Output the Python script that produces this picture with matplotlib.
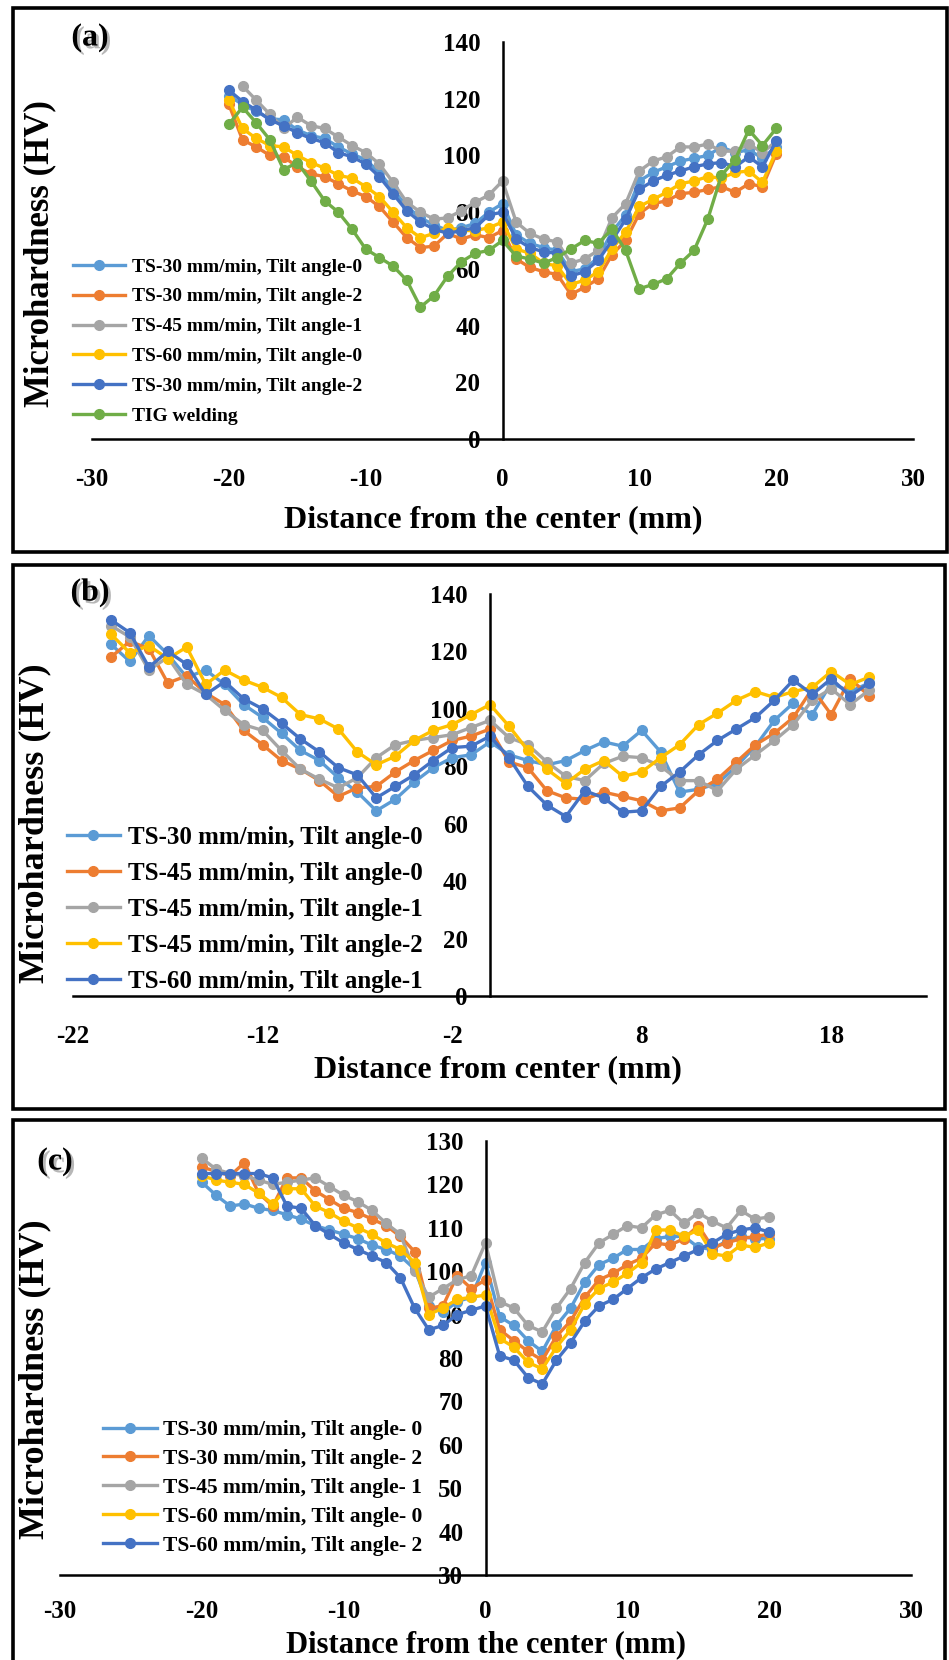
import numpy as np
import matplotlib
matplotlib.use("Agg")
import matplotlib.pyplot as plt
from matplotlib.patches import Rectangle
import matplotlib.patheffects as pe

plt.rcParams['font.family'] = ['Liberation Serif', 'DejaVu Serif']
plt.rcParams['font.weight'] = 'bold'
plt.rcParams['axes.unicode_minus'] = False

# ---------------- data ----------------
x = np.arange(-20, 21)

# panel (a)
a_labels = ["TS-30 mm/min, Tilt angle-0", "TS-30 mm/min, Tilt angle-2", "TS-45 mm/min, Tilt angle-1",
            "TS-60 mm/min, Tilt angle-0", "TS-30 mm/min, Tilt angle-2", "TIG welding"]
a_ts30_t0 = [121, 118, 115.5, 113, 112.5, 109, 107, 106, 103, 100.5, 98.5, 94, 88, 82, 78, 75.5, 73.5, 74.5, 76, 80, 83,
             72, 69, 67.5, 66.5, 59, 60, 64, 73, 79, 91, 94, 96, 98, 99, 100, 103, 101, 102, 99, 103]
a_ts30_t2 = [118, 105.5, 103, 100, 99.5, 96, 93.5, 92.5, 90, 87.5, 85.5, 82, 76.5, 71, 67.5, 68, 72.5, 70.5, 72, 71, 73.5,
             63.5, 60.5, 59, 58, 51, 53.5, 56.5, 65, 70, 79.5, 83, 84, 86.5, 87, 88, 89, 87, 90, 89, 100.5]
a_ts45_t1 = [np.nan, 124.5, 119.5, 114.5, 109.5, 113.5, 110.5, 109.5, 106.5, 103.5, 101, 97, 90.5, 83.5, 80, 77.5, 78, 80.5, 83.5, 86, 91,
             76.5, 72.5, 70.5, 69.5, 62, 63.5, 66.5, 78, 83, 94.5, 98, 99.5, 103, 103, 104, 101.5, 101.5, 104, 101, 105]
a_ts60_t0 = [119.5, 109.5, 106, 103.5, 103, 100, 97.5, 95.5, 93, 92, 89, 85.5, 80, 74.5, 71, 72.5, 74.5, 73.5, 73.5, 74.5, 76.5,
             67, 65.5, 62, 61, 54.5, 56, 59, 67, 73, 82, 84.5, 87, 90, 91, 92.5, 92, 94, 94.5, 90.5, 101.5]
a_ts30_t2b = [123, 119, 116, 112.5, 110.5, 108, 106, 104.5, 101, 99.5, 97, 92.5, 86.5, 80.5, 76.5, 74, 72.5, 73.5, 74.5, 79, 80,
              70.5, 67.5, 66, 65.5, 57.5, 59, 63, 70, 77.5, 88, 91, 93, 94.5, 96, 97, 97.5, 96, 99.5, 96, 105]
a_tig = [111, 117, 111.5, 105.5, 95, 97.5, 91, 84, 80, 74, 67, 64, 61, 56, 46.5, 50.5, 57.5, 62.5, 65.5, 66.5, 70,
         64.5, 63.5, 62, 64, 67, 70, 69, 74, 66.5, 53, 54.5, 56.5, 62, 66.5, 77.5, 93, 98.5, 109, 103.5, 109.5]

# panel (b)
b_labels = ["TS-30 mm/min, Tilt angle-0", "TS-45 mm/min, Tilt angle-0", "TS-45 mm/min, Tilt angle-1",
            "TS-45 mm/min, Tilt angle-2", "TS-60 mm/min, Tilt angle-1"]
b_ts30_t0 = [122.5, 116.5, 125.5, 119, 111, 113.5, 108.5, 101.5, 97, 91.5, 85.5, 82, 76, 71, 64.5, 68.5, 74.5, 79.5, 83, 84, 88.5,
             84, 82, 80.5, 82, 85.5, 88.5, 87, 92.5, 85, 71, 72, 74, 80, 87, 96, 102, 98, 109, 106, 109]
b_ts45_t0 = [118, 123.5, 121, 109, 111.5, 105.5, 101.5, 92.5, 87.5, 82, 79, 75, 69.5, 72.5, 73, 78, 82, 85.5, 89, 90.5, 93,
             81.5, 79.5, 71.5, 69, 68.5, 71, 69.5, 68, 64.5, 65.5, 71.5, 75.5, 81.5, 87.5, 91.5, 97, 107, 98, 110.5, 104.5]
b_ts45_t1 = [129, 125, 113.5, 118, 108.5, 105, 99.5, 94.5, 92.5, 85.5, 79, 75.5, 72.5, 76, 83, 87.5, 89, 90, 91, 93.5, 96,
             90, 87.5, 81.5, 76.5, 75, 81, 83.5, 83, 80, 75, 75, 71.5, 79, 84, 89, 94.5, 103, 107, 101.5, 106.5]
b_ts45_t2 = [126, 119.5, 122, 117.5, 121.5, 108.5, 113.5, 110, 107.5, 104, 98, 96.5, 93, 85, 80.5, 83.5, 89, 92.5, 94.5, 98, 101.5,
             94, 85.5, 79, 74, 79, 82, 76.5, 78, 83, 87.5, 94.5, 98.5, 103, 106, 104, 106, 107.5, 113, 108.5, 111]
b_ts60_t1 = [131, 126.5, 114.5, 120, 115.5, 105, 109.5, 103.5, 100, 95, 89.5, 85, 79.5, 77, 69, 73, 77, 82, 86.5, 87, 90.5,
             83, 73, 66.5, 62.5, 71.5, 69, 64, 64.5, 73, 78, 84, 89, 93, 97, 103, 110, 105, 110.5, 104.5, 109]

# panel (c)
c_labels = ["TS-30 mm/min, Tilt angle- 0", "TS-30 mm/min, Tilt angle- 2", "TS-45 mm/min, Tilt angle- 1",
            "TS-60 mm/min, Tilt angle- 0", "TS-60 mm/min, Tilt angle- 2"]
c_ts30_t0 = [120.5, 117.5, 115, 115.5, 114.5, 114, 113, 112, 110.5, 109.5, 108.5, 107.5, 106, 105, 103.5, 100.5, 92, 90.5, 93, 94, 102,
             89.5, 87.5, 84, 81.5, 87.5, 91.5, 97.5, 101.5, 103, 105, 105, 107.5, 108, 108, 105.5, 105, 107, 108, 107.5, 107.5]
c_ts30_t2 = [124, 123, 122, 125, 118, 115, 121.5, 121.5, 118.5, 116.5, 114.5, 113.5, 112, 110.5, 108, 104.5, 91.5, 92, 99, 96, 98,
             86.5, 84, 81.5, 79.5, 85, 88.5, 94, 98, 99.5, 101.5, 103, 106.5, 106, 107.5, 110.5, 105.5, 106.5, 107.5, 108, 108.5]
c_ts45_t1 = [126, 123.5, 122.5, 122, 121, 120, 120.5, 121, 121.5, 119.5, 117.5, 116, 114, 111, 108.5, 100, 94, 96, 98, 99, 106.5,
             93, 91.5, 87.5, 86, 91.5, 96, 102, 106.5, 108.5, 110.5, 110, 113, 114, 111, 113.5, 111.5, 110, 114, 112, 112.5]
c_ts60_t0 = [122, 121, 120.5, 120, 118, 115.5, 119, 119, 115, 113.5, 111.5, 110, 108.5, 106.5, 105, 102, 90, 91.5, 93.5, 94, 94.5,
             84.5, 82.5, 79, 77.5, 82.5, 86.5, 92.5, 96, 97.5, 99.5, 102, 109.5, 109.5, 108, 109.5, 104, 103.5, 106, 105.5, 106.5]
c_ts60_t2 = [122.5, 122.5, 122.5, 122.5, 122.5, 121.5, 115, 114.5, 110.5, 108.5, 106.5, 105, 103.5, 102, 98.5, 91.5, 86.5, 87.5, 90, 91, 92,
             80.5, 79.5, 75.5, 74, 79.5, 83.5, 88.5, 92, 93.5, 96, 98.5, 100.5, 102, 103.5, 105, 106.5, 108.5, 109.5, 110, 109]

colors6 = ["#5B9BD5", "#ED7D31", "#A5A5A5", "#FFC000", "#4472C4", "#70AD47"]

# ---------------- figure ----------------
W, H = 949, 1660
fig = plt.figure(figsize=(W / 100, H / 100), dpi=100)


def fx(px):
    return px / W


def fy(py):
    return 1 - py / H


def add_axes_px(x0, x1, y_bottom, y_top):
    return fig.add_axes([fx(x0), fy(y_bottom), (x1 - x0) / W, (y_bottom - y_top) / H])


def style_axes(ax, xlim, ylim, xticks, yticks, xpad=21, ypad=16, tsize=18):
    ax.set_xlim(*xlim)
    ax.set_ylim(*ylim)
    for s in ['top', 'right']:
        ax.spines[s].set_visible(False)
    ax.spines['left'].set_position(('data', 0))
    ax.spines['left'].set_linewidth(1.8)
    ax.spines['bottom'].set_linewidth(1.8)
    ax.set_xticks(xticks)
    ax.set_yticks(yticks)
    ax.tick_params(axis='x', length=0, pad=xpad, labelsize=tsize)
    ax.tick_params(axis='y', length=0, pad=ypad, labelsize=tsize)
    for t in ax.get_xticklabels() + ax.get_yticklabels():
        t.set_fontweight('bold')
    ax.patch.set_alpha(0)


def frame(x0, y0, x1, y1):
    fig.patches.append(Rectangle((fx(x0), fy(y1)), (x1 - x0) / W, (y1 - y0) / H,
                                 transform=fig.transFigure, fill=False, lw=2.6, ec='black'))


shadow = [pe.withSimplePatchShadow(offset=(2, -2), shadow_rgbFace='#888888', alpha=0.6)]
mk = dict(marker='o', markersize=7, lw=2.4)

# ----- panel (a)
frame(13, 8, 947, 552)
axa = add_axes_px(92, 913, 439, 42)
a_series = [a_ts30_t0, a_ts30_t2, a_ts45_t1, a_ts60_t0, a_ts30_t2b, a_tig]
for vals, c, lab in zip(a_series, colors6, a_labels):
    axa.plot(x, vals, color=c, mfc=c, mec=c, label=lab, **mk)
style_axes(axa, (-30, 30), (0, 140), np.arange(-30, 31, 10), np.arange(0, 141, 20))
axa.legend(loc='upper left', bbox_to_anchor=(fx(73), fy(258)), bbox_transform=fig.transFigure,
           frameon=False, prop={'size': 14, 'weight': 'bold'}, handlelength=2.67, handletextpad=0.36,
           labelspacing=0.63, borderpad=0, borderaxespad=0)
fig.text(fx(493), fy(520), "Distance from the center (mm)", ha='center', va='center', fontsize=23, fontweight='bold')
fig.text(fx(40), fy(254), "Microhardness (HV)", ha='center', va='center', rotation=90, fontsize=25, fontweight='bold')
fig.text(fx(90), fy(38), "(a)", ha='center', va='center', fontsize=23, fontweight='bold', path_effects=shadow)

# ----- panel (b)
frame(13, 565, 945, 1109)
axb = add_axes_px(73, 926, 996, 594)
b_series = [b_ts30_t0, b_ts45_t0, b_ts45_t1, b_ts45_t2, b_ts60_t1]
for vals, c, lab in zip(b_series, colors6[:5], b_labels):
    axb.plot(x, vals, color=c, mfc=c, mec=c, label=lab, **mk)
style_axes(axb, (-22, 23), (0, 140), np.arange(-22, 19, 10), np.arange(0, 141, 20))
axb.legend(loc='upper left', bbox_to_anchor=(fx(67), fy(826)), bbox_transform=fig.transFigure,
           frameon=False, prop={'size': 18, 'weight': 'bold'}, handlelength=2.1, handletextpad=0.32,
           labelspacing=0.52, borderpad=0, borderaxespad=0)
fig.text(fx(498), fy(1070), "Distance from center (mm)", ha='center', va='center', fontsize=23, fontweight='bold')
fig.text(fx(35), fy(823), "Microhardness (HV)", ha='center', va='center', rotation=90, fontsize=26, fontweight='bold')
fig.text(fx(90), fy(593), "(b)", ha='center', va='center', fontsize=23, fontweight='bold', path_effects=shadow)

# ----- panel (c)
frame(13, 1120, 945, 1664)
axc = add_axes_px(60, 911, 1575, 1141)
c_series = [c_ts30_t0, c_ts30_t2, c_ts45_t1, c_ts60_t0, c_ts60_t2]
for vals, c, lab in zip(c_series, colors6[:5], c_labels):
    axc.plot(x, vals, color=c, mfc=c, mec=c, label=lab, **mk)
style_axes(axc, (-30, 30), (30, 130), np.arange(-30, 31, 10), np.arange(30, 131, 10), xpad=18)
axc.legend(loc='upper left', bbox_to_anchor=(fx(103), fy(1420)), bbox_transform=fig.transFigure,
           frameon=False, prop={'size': 15.5, 'weight': 'bold'}, handlelength=2.5, handletextpad=0.28,
           labelspacing=0.41, borderpad=0, borderaxespad=0)
fig.text(fx(486), fy(1645), "Distance from the center (mm)", ha='center', va='center', fontsize=22, fontweight='bold')
fig.text(fx(35), fy(1379), "Microhardness (HV)", ha='center', va='center', rotation=90, fontsize=26, fontweight='bold')
fig.text(fx(55), fy(1162), "(c)", ha='center', va='center', fontsize=23, fontweight='bold', path_effects=shadow)

fig.savefig("out.png", dpi=100)
